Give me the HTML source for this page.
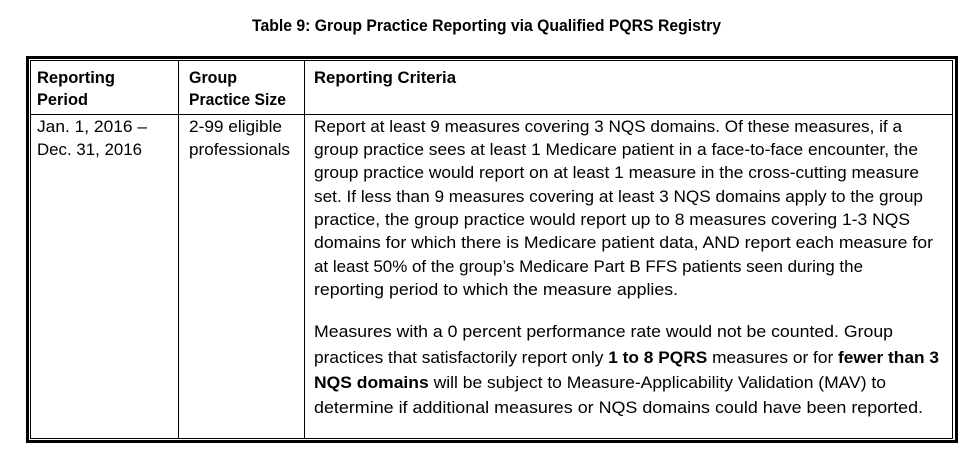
<!DOCTYPE html>
<html><head><meta charset="utf-8"><style>
html,body{margin:0;padding:0;background:#fff;width:972px;height:452px;overflow:hidden}
svg{display:block}
text{font-family:"Liberation Sans",sans-serif;font-size:17px;fill:#000}
.b{font-weight:bold}
</style></head><body>
<svg width="972" height="452" viewBox="0 0 972 452" xmlns="http://www.w3.org/2000/svg">
<text x="252" y="31" class="b" textLength="469" lengthAdjust="spacingAndGlyphs">Table 9:  Group Practice Reporting via Qualified PQRS Registry</text>
<rect x="27.5" y="57.5" width="929" height="384" fill="none" stroke="#000" stroke-width="3"/>
<rect x="30.5" y="60.5" width="922" height="378" fill="none" stroke="#000" stroke-width="1"/>
<line x1="178.5" y1="60" x2="178.5" y2="439" stroke="#000"/>
<line x1="304.5" y1="60" x2="304.5" y2="439" stroke="#000"/>
<line x1="30" y1="114.5" x2="953" y2="114.5" stroke="#000"/>
<text x="37" y="83" class="b" textLength="78" lengthAdjust="spacingAndGlyphs">Reporting</text>
<text x="37" y="105" class="b" textLength="51" lengthAdjust="spacingAndGlyphs">Period</text>
<text x="189" y="83" class="b" textLength="48" lengthAdjust="spacingAndGlyphs">Group</text>
<text x="189" y="105" class="b" textLength="97" lengthAdjust="spacingAndGlyphs">Practice Size</text>
<text x="314" y="83" class="b" textLength="142" lengthAdjust="spacingAndGlyphs">Reporting Criteria</text>
<text x="37" y="132" textLength="110" lengthAdjust="spacingAndGlyphs">Jan. 1, 2016 –</text>
<text x="37" y="155" textLength="105" lengthAdjust="spacingAndGlyphs">Dec. 31, 2016</text>
<text x="189" y="132" textLength="93" lengthAdjust="spacingAndGlyphs">2-99 eligible</text>
<text x="189" y="155" textLength="101" lengthAdjust="spacingAndGlyphs">professionals</text>
<text x="314" y="132" textLength="588" lengthAdjust="spacingAndGlyphs">Report at least 9 measures covering 3 NQS domains. Of these measures, if a</text>
<text x="314" y="155" textLength="604" lengthAdjust="spacingAndGlyphs">group practice sees at least 1 Medicare patient in a face-to-face encounter, the</text>
<text x="314" y="178" textLength="605" lengthAdjust="spacingAndGlyphs">group practice would report on at least 1 measure in the cross-cutting measure</text>
<text x="314" y="202" textLength="609" lengthAdjust="spacingAndGlyphs">set. If less than 9 measures covering at least 3 NQS domains apply to the group</text>
<text x="314" y="225" textLength="596" lengthAdjust="spacingAndGlyphs">practice, the group practice would report up to 8 measures covering 1-3 NQS</text>
<text x="314" y="248" textLength="619" lengthAdjust="spacingAndGlyphs">domains for which there is Medicare patient data, AND report each measure for</text>
<text x="314" y="272" textLength="549" lengthAdjust="spacingAndGlyphs">at least 50% of the group’s Medicare Part B FFS patients seen during the</text>
<text x="314" y="295" textLength="364" lengthAdjust="spacingAndGlyphs">reporting period to which the measure applies.</text>
<text x="314" y="337" textLength="579" lengthAdjust="spacingAndGlyphs">Measures with a 0 percent performance rate would not be counted. Group</text>
<text x="314" y="363" textLength="625" lengthAdjust="spacingAndGlyphs">practices that satisfactorily report only <tspan class="b">1 to 8 PQRS</tspan> measures or for <tspan class="b">fewer than 3</tspan></text>
<text x="314" y="388" textLength="572" lengthAdjust="spacingAndGlyphs"><tspan class="b">NQS domains</tspan> will be subject to Measure-Applicability Validation (MAV) to</text>
<text x="314" y="413" textLength="609" lengthAdjust="spacingAndGlyphs">determine if additional measures or NQS domains could have been reported.</text>
</svg>
</body></html>
